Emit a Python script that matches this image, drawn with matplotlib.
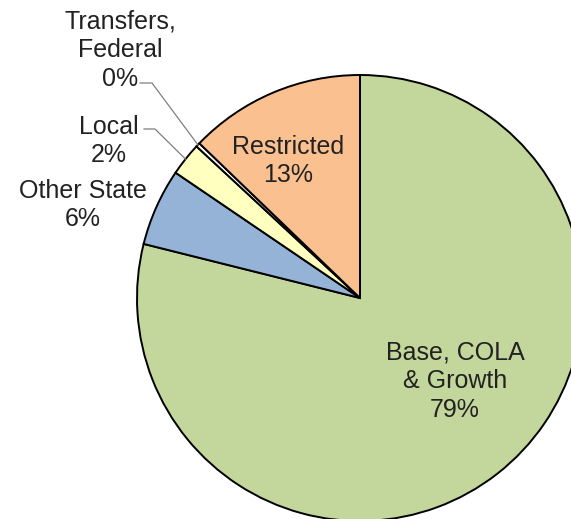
import numpy as np
import matplotlib.pyplot as plt

plt.rcParams['font.family'] = ['Liberation Sans', 'DejaVu Sans']

# budget shares, clockwise from 12 o'clock
names = ["Base, COLA\n& Growth", "Other State", "Local", "Transfers,\nFederal", "Restricted"]
shares = [78.9, 5.6, 2.4, 0.3, 12.8]
colors = ["#C3D69B", "#95B3D7", "#FFFFC0", "#FFFFFF", "#FAC090"]

# label placement in pixels (x, y from top), and leader-line elbows for the small slices
label_xy = [(455, 381), (83, 205), (109, 141), (120, 50), (288, 161)]
leaders = {2: (144, 129, 155), 3: (140, 83, 152)}

W, H = 571, 519
cx, cy, r = 360, 298, 223

fig = plt.figure(figsize=(W / 100, H / 100), dpi=100)
ax = fig.add_axes([0, 0, 1, 1])

wedges, _ = ax.pie(shares, colors=colors, startangle=90, counterclock=False,
                   center=(cx, H - cy), radius=r, frame=True,
                   wedgeprops=dict(edgecolor="black", linewidth=1.4))
ax.set_xlim(0, W)
ax.set_ylim(0, H)
ax.set_aspect("equal")
ax.axis("off")

for i, (name, val) in enumerate(zip(names, shares)):
    x, y = label_xy[i]
    ax.text(x, H - y, f"{name}\n{round(val):.0f}%", ha="center", va="center",
            fontsize=18, linespacing=1.26, color="#222222")

for i, (x0, y0, x1) in leaders.items():
    w = wedges[i]
    ang = np.deg2rad((w.theta1 + w.theta2) / 2)
    ex = cx + r * np.cos(ang)
    ey = (H - cy) + r * np.sin(ang)
    ax.plot([x0, x1, ex], [H - y0, H - y0, ey], color="#7f7f7f", linewidth=0.9)

fig.savefig("out.png", dpi=100)
